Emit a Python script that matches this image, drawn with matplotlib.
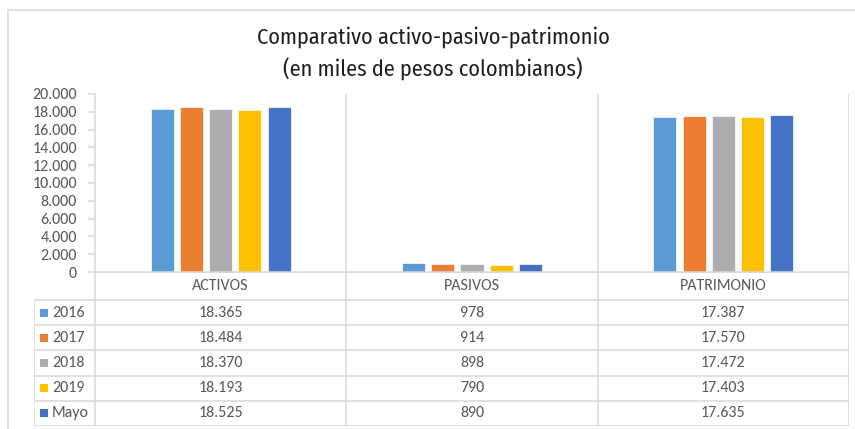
import matplotlib.pyplot as plt
from matplotlib.patches import Rectangle

categories = ['ACTIVOS', 'PASIVOS', 'PATRIMONIO']
series = ['2016', '2017', '2018', '2019', 'Mayo']
v2016 = [18365, 978, 17387]
v2017 = [18484, 914, 17570]
v2018 = [18370, 898, 17472]
v2019 = [18193, 790, 17403]
vmayo = [18525, 890, 17635]
values = [v2016, v2017, v2018, v2019, vmayo]
colors = ['#5B9BD5', '#ED7D31', '#ADADB0', '#FFC000', '#4472C4']
yticks = list(range(0, 20001, 2000))

W, H = 855, 429
GRID = '#D9D9D9'
TXT = '#595959'
FONT = ['Carlito', 'Lato', 'DejaVu Sans']
TITLE_FONT = ['Fira Sans Condensed', 'DejaVu Sans']


def fmt(v):
    return f"{v:,}".replace(',', '.')


fig = plt.figure(figsize=(W / 100, H / 100), dpi=100)

# outer chart frame (left + top edges visible)
fig.patches.append(Rectangle((8 / W, -0.1), 1.2, 1 - 10 / H + 0.1, transform=fig.transFigure,
                             fill=False, edgecolor=GRID, linewidth=1.2))

fig.text(433 / W, 1 - 37 / H, 'Comparativo activo-pasivo-patrimonio',
         ha='center', va='center', fontsize=16, color='#1E1E1E', family=TITLE_FONT)
fig.text(433 / W, 1 - 69 / H, '(en miles de pesos colombianos)',
         ha='center', va='center', fontsize=16, color='#1E1E1E', family=TITLE_FONT)

# bar area
ax = fig.add_axes([95 / W, 1 - 272 / H, 754 / W, 178 / H])
pitch = 29.3 / 251.33
width = 23 / 251.33
for i, (lab, vals, c) in enumerate(zip(series, values, colors)):
    xs = [k + (i - 2) * pitch for k in range(len(categories))]
    ax.bar(xs, vals, width=width, color=c, edgecolor='white', linewidth=0.5, label=lab)
ax.set_xlim(-0.5, 2.5)
ax.set_ylim(0, 20000)
ax.set_yticks(yticks)
ax.set_yticklabels([fmt(t) for t in yticks], family=FONT, fontsize=11.5, color=TXT)
ax.tick_params(axis='y', length=5, width=1.1, color=GRID, pad=8)
ax.set_xticks([])
for s in ['top', 'right']:
    ax.spines[s].set_visible(False)
for s in ['left', 'bottom']:
    ax.spines[s].set_color(GRID)
    ax.spines[s].set_linewidth(1.1)
for xv in [0.5, 1.5, 2.5]:
    ax.axvline(xv, color=GRID, linewidth=1.1)

# data table
unit = 251.33
xleft = -0.5 - 61 / unit
tax = fig.add_axes([34 / W, 1 - 426 / H, 815 / W, 154 / H])
tax.set_xlim(xleft, 2.5)
hdr = 1.11
tax.set_ylim(hdr + 5, 0)
tax.axis('off')

tax.hlines(0, -0.5, 2.5, color=GRID, linewidth=1.1)
for r in range(6):
    tax.hlines(hdr + r, xleft, 2.5, color=GRID, linewidth=1.1)
tax.vlines(xleft, hdr, hdr + 5, color=GRID, linewidth=1.1)
for xv in [-0.5, 0.5, 1.5, 2.5]:
    tax.vlines(xv, 0, hdr + 5, color=GRID, linewidth=1.1)

for k, cat in enumerate(categories):
    tax.text(k, hdr / 2, cat, ha='center', va='center', family=FONT, fontsize=11.5, color=TXT)

for i, (lab, vals, c) in enumerate(zip(series, values, colors)):
    yc = hdr + i + 0.5
    tax.scatter([xleft + 10 / unit], [yc], marker='s', s=38, color=c, linewidths=0)
    tax.text(xleft + 18 / unit, yc, lab, ha='left', va='center', family=FONT, fontsize=11.5, color=TXT)
    for k, v in enumerate(vals):
        tax.text(k, yc, fmt(v), ha='center', va='center', family=FONT, fontsize=11.5, color=TXT)

fig.savefig('out.png', dpi=100, facecolor='white')
